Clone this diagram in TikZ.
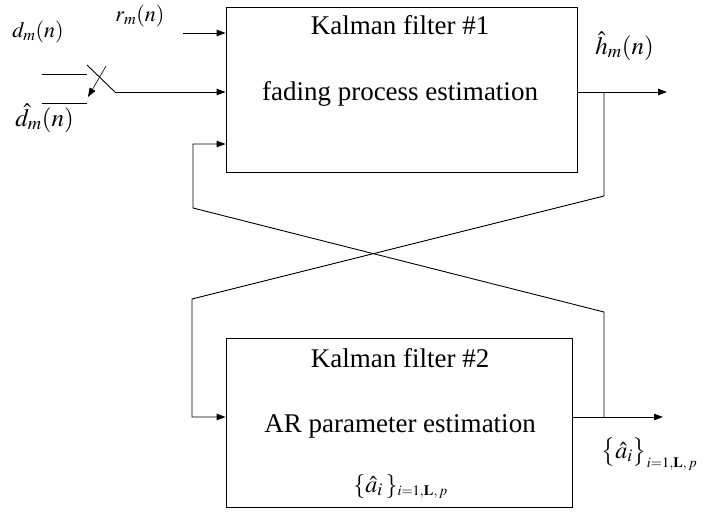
\documentclass[tikz,border=0pt]{standalone}
\usepackage{mathptmx}
\usepackage{fontspec}
\setmainfont{Liberation Serif}
\usetikzlibrary{arrows.meta}
\begin{document}
\begin{tikzpicture}[x=1pt,y=-1pt, line width=0.9pt,
  arr/.style={-{Triangle[length=9pt,width=6.5pt]}},
  boxstyle/.style={draw, rectangle, inner sep=0pt},
  lbl/.style={inner sep=0pt, anchor=base west},
  btxt/.style={inner sep=0pt, anchor=base, font=\fontsize{27}{32}\selectfont}]
\useasboundingbox (0,0) rectangle (705,512);
% boxes
\node[boxstyle, minimum width=351pt, minimum height=165pt] (k1) at (401.5,89.5) {};
\node[boxstyle, minimum width=346pt, minimum height=169pt] (k2) at (399,422.5) {};
% box texts
\node[btxt] (t1) at (400,34) {Kalman filter \#1};
\node[btxt] (t2) at (400,100) {fading process estimation};
\node[btxt] (t3) at (400,367) {Kalman filter \#2};
\node[btxt] (t4) at (400,432) {AR parameter estimation};
% labels
\node[lbl, font=\fontsize{22}{26}\selectfont] (ld) at (12,37) {$d_{m}(n)$};
\node[lbl, font=\fontsize{22}{26}\selectfont] (lr) at (115,21) {$r_{m}(n)$};
\node[lbl, font=\fontsize{25}{30}\selectfont] (ldh) at (15,126) {$\hat{d}_{m}(n)$};
\node[lbl, font=\fontsize{25}{30}\selectfont] (lh) at (595,54) {$\hat{h}_{m}(n)$};
\node[lbl, font=\fontsize{24}{28}\selectfont] (la1) at (601,458) {$\bigl\{\hat{a}_i\bigr\}_{\scriptscriptstyle i=1,\mathbf{L},\,p}$};
\node[lbl, font=\fontsize{24}{28}\selectfont] (la2) at (353,492) {$\{\hat{a}_i\,\}_{\scriptscriptstyle i=1,\mathbf{L},\,p}$};
% input r
\coordinate (rin) at (183,33);
\draw[arr] (rin) -- (rin -| k1.west);
% switch
\coordinate (s1a) at (42,74); \coordinate (s1b) at (87,74);
\coordinate (s2a) at (42,103); \coordinate (s2b) at (87,103);
\coordinate (lv0) at (87,65); \coordinate (lv1) at (115,92);
\coordinate (sa0) at (106,66); \coordinate (sa1) at (88,97);
\draw (s1a) -- (s1b);
\draw (s2a) -- (s2b);
\draw (lv0) -- (lv1);
\draw[arr] (lv1) -- (lv1 -| k1.west);
\draw[arr, line width=0.6pt] (sa0) -- (sa1);
% outputs
\coordinate (hout) at (667,92);
\draw[arr] (hout -| k1.east) -- (hout);
\coordinate (aout) at (663,417);
\draw[arr] (aout -| k2.east) -- (aout);
% feedback cross
\coordinate (j1) at (604,92); \coordinate (j2) at (604,417);
\coordinate (c1) at (604,196); \coordinate (c2) at (192,299); \coordinate (c3) at (192,417);
\coordinate (d1) at (604,312); \coordinate (d2) at (193,208); \coordinate (d3) at (193,144);
\draw[arr] (j1) -- (c1) -- (c2) -- (c3) -- (c3 -| k2.west);
\draw[arr] (j2) -- (d1) -- (d2) -- (d3) -- (d3 -| k1.west);
\end{tikzpicture}
\end{document}
